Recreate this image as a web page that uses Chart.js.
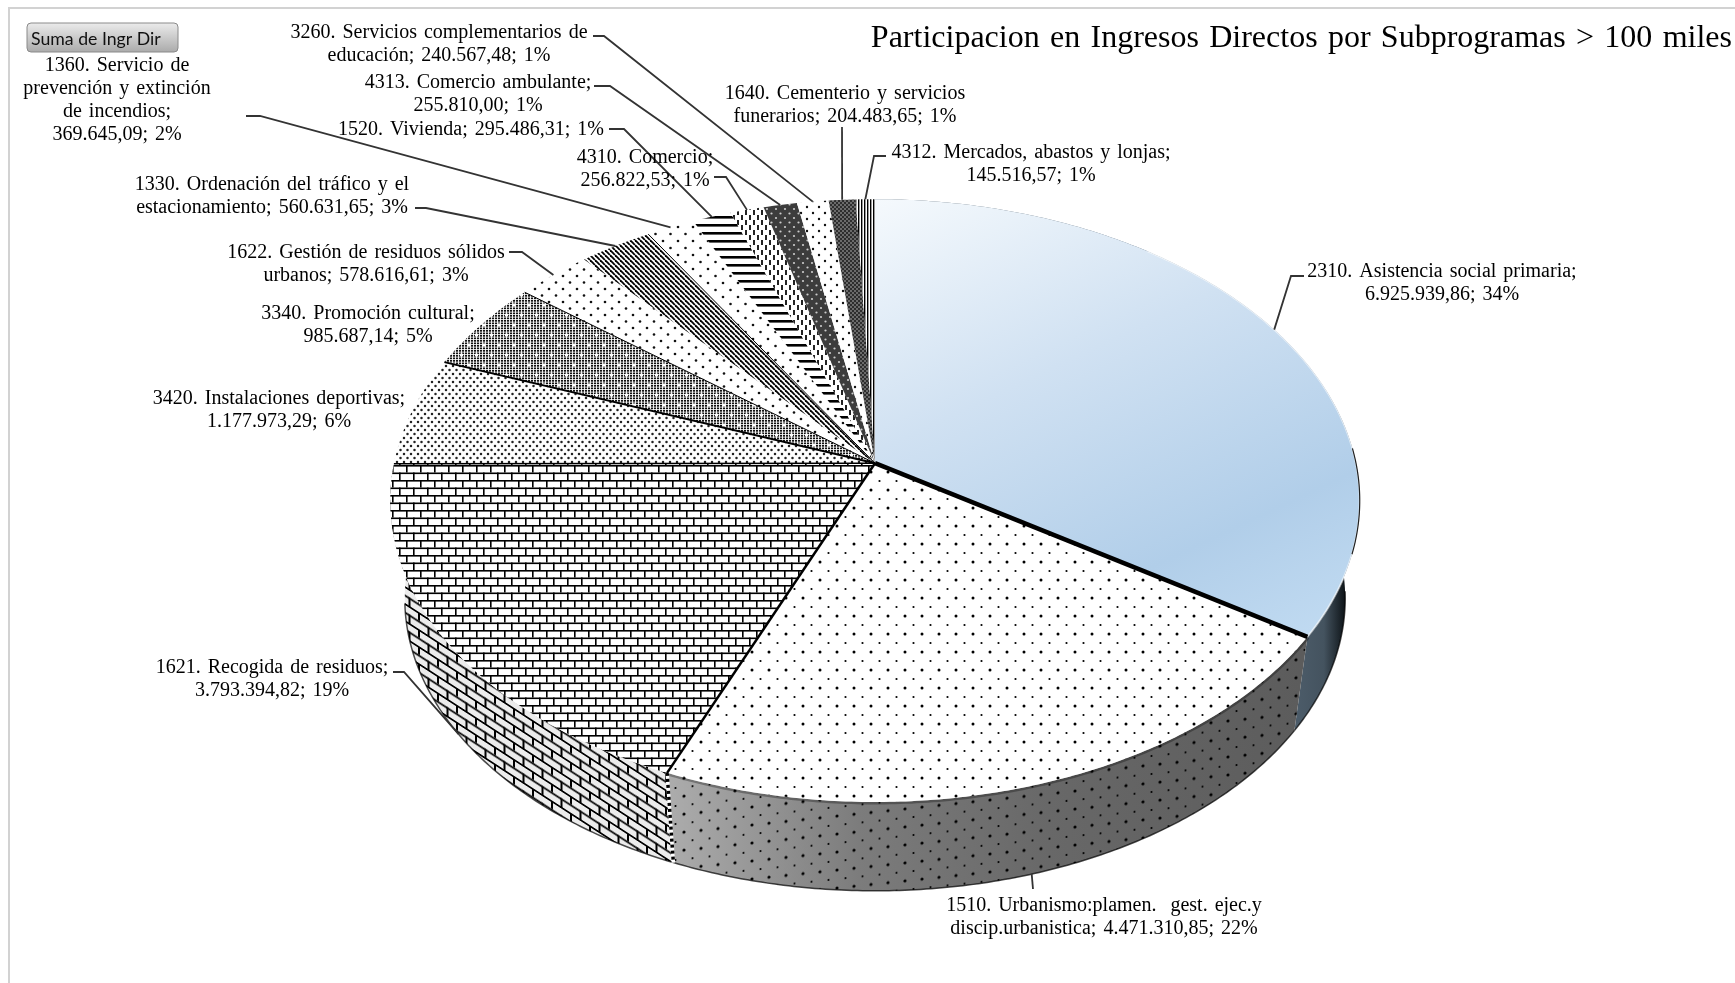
<!DOCTYPE html>
<html lang="es">
<head>
<meta charset="utf-8">
<title>Participacion en Ingresos Directos</title>
<script src="https://cdn.jsdelivr.net/npm/chart.js@4"></script>
<style>
    html, body { margin: 0; padding: 0; background: #fff; overflow: hidden; }
    #wrap { position: relative; width: 1735px; height: 983px; }
</style>
</head>
<body>
<div id="wrap"><canvas id="grafico" width="1735" height="983"></canvas></div>
<script>
const titulo = 'Participacion en Ingresos Directos por Subprogramas > 100 miles';
const botonTexto = 'Suma de Ingr Dir';

const categorias = [
    '2310. Asistencia social primaria',
    '1510. Urbanismo:plamen.  gest. ejec.y discip.urbanistica',
    '1621. Recogida de residuos',
    '3420. Instalaciones deportivas',
    '3340. Promoción cultural',
    '1622. Gestión de residuos sólidos urbanos',
    '1330. Ordenación del tráfico y el estacionamiento',
    '1360. Servicio de prevención y extinción de incendios',
    '1520. Vivienda',
    '4310. Comercio',
    '4313. Comercio ambulante',
    '3260. Servicios complementarios de educación',
    '1640. Cementerio y servicios funerarios',
    '4312. Mercados, abastos y lonjas'
];
const valores = [
    6925939.86, 4471310.85, 3793394.82, 1177973.29, 985687.14, 578616.61, 560631.65,
    369645.09, 295486.31, 256822.53, 255810.00, 240567.48, 204483.65, 145516.57
];

// layout of the labels: centre x, y of first line, words per line
const posEtiquetas = [
    [1442, 272, [4]], [1104, 906, [5]], [272, 668, [4]], [279, 399, [3]], [368, 314, [3]],
    [366, 253, [5]], [272, 185, [6]], [117, 66, [3, 6, 8]], [471, 130, []], [645, 158, [2]],
    [478, 83, [3]], [439, 33, [4]], [845, 94, [4]], [1031, 153, [5]]
];
// leader lines: start of the line and elbow, the end comes from the slice itself
const guias = [
    [[1304, 276], [1291, 276]], [[1033, 889]], [[393, 672], [404, 672]], null, null,
    [[509, 252], [522, 252]], [[415, 208], [426, 208]], [[246, 116], [260, 116]],
    [[609, 129], [624, 129]], [[714, 177], [726, 177]], [[594, 86], [610, 86]],
    [[593, 36], [604, 36]], [[842, 127]], [[886, 156], [874, 156]]
];
const guiaEnPared = [1, 2]; // these two end on the lower rim

// perspective of the 3D pie
const K = 0.124;
const ALTO = 0.617;
const ESCALA_BASE = 0.97;
const BAJADA_BASE = 99;

const canvas = document.getElementById('grafico');
const ctx = canvas.getContext('2d');

function trama(w, h, pintar) {
    const c = document.createElement('canvas');
    c.width = w;
    c.height = h;
    const g = c.getContext('2d');
    pintar(g);
    return ctx.createPattern(c, 'repeat');
}

function puntos(w, h, fondo, color, lista) {
    return trama(w, h, function (g) {
        if (fondo) {
            g.fillStyle = fondo;
            g.fillRect(0, 0, w, h);
        }
        g.fillStyle = color;
        lista.forEach(function (p) {
            g.beginPath();
            g.arc(p[0], p[1], p[2], 0, Math.PI * 2);
            g.fill();
        });
    });
}

function ladrillos(w, h, fondo, grosor) {
    return trama(w, h, function (g) {
        g.fillStyle = fondo;
        g.fillRect(0, 0, w, h);
        g.fillStyle = '#000';
        g.fillRect(0, 0, w, grosor);
        g.fillRect(0, h / 2, w, grosor);
        g.fillRect(0, 0, grosor, h / 2);
        g.fillRect(w / 2, h / 2, grosor, h / 2);
    });
}

const azul = ctx.createLinearGradient(880, 190, 1130, 720);
azul.addColorStop(0, '#f6fafd');
azul.addColorStop(0.4, '#d0e1f2');
azul.addColorStop(0.78, '#b1cee9');
azul.addColorStop(1, '#c0daf1');

const rellenos = [
    azul,
    puntos(17, 18, '#fff', '#000', [[4, 4, 1.5], [12.5, 13, 1.1]]),
    ladrillos(14, 15, '#fff', 1.6),
    puntos(7, 8, '#fff', '#222', [[1.5, 2, 1.25], [5, 6, 1.25]]),
    trama(15, 20, function (g) {
        g.fillStyle = '#fff';
        g.fillRect(0, 0, 15, 20);
        g.fillStyle = '#111';
        for (let x = 0; x < 15; x += 3) {
            for (let y = 0; y < 20; y += 2.5) g.fillRect(x, y, 2.1, 1.7);
        }
        g.fillStyle = '#fff';
        [[4, 5], [11.5, 15]].forEach(function (p) {
            g.beginPath();
            g.arc(p[0], p[1], 1.7, 0, Math.PI * 2);
            g.fill();
        });
    }),
    puntos(14, 13, '#fff', '#111', [[3, 3, 1.3], [10, 9.5, 1.3]]),
    trama(5, 5, function (g) {
        g.fillStyle = '#fff';
        g.fillRect(0, 0, 5, 5);
        g.strokeStyle = '#000';
        g.lineWidth = 1.8;
        [-5, 0, 5].forEach(function (d) {
            g.beginPath();
            g.moveTo(d, 0);
            g.lineTo(d + 5, 5);
            g.stroke();
        });
    }),
    puntos(15, 14, '#fff', '#111', [[3, 3, 1.3], [10.5, 10, 1.3]]),
    trama(4, 8, function (g) {
        g.fillStyle = '#fff';
        g.fillRect(0, 0, 4, 8);
        g.fillStyle = '#000';
        g.fillRect(0, 0, 4, 2.6);
    }),
    trama(8, 10, function (g) {
        g.fillStyle = '#fff';
        g.fillRect(0, 0, 8, 10);
        g.fillStyle = '#222';
        g.fillRect(1, 0, 2, 5);
        g.fillRect(5, 5, 2, 5);
    }),
    puntos(9, 9, '#3c3c3c', '#ccc', [[2, 2, 1.1], [6.5, 6.5, 1.1]]),
    puntos(12, 12, '#fff', '#111', [[3, 3, 1.2], [9, 9, 1.2]]),
    puntos(4, 4, '#2e2e2e', '#bbb', [[1, 1, 0.8], [3, 3, 0.8]]),
    trama(3, 2, function (g) {
        g.fillStyle = '#fff';
        g.fillRect(0, 0, 3, 2);
        g.fillStyle = '#000';
        g.fillRect(0, 0, 1.4, 2);
    })
];

// radial line at the end of each slice
const bordes = [4.5, 2.5, 1.5, 2, 1, 0, 1, 0, 0, 0, 0, 0, 0, 0];

// walls: only the first three can be seen from the front
const paredAzul = ctx.createLinearGradient(1285, 0, 1345, 0);
paredAzul.addColorStop(0, '#4f5f6d');
paredAzul.addColorStop(0.65, '#44535f');
paredAzul.addColorStop(1, '#0e1418');

const paredGris = ctx.createLinearGradient(670, 0, 1300, 0);
paredGris.addColorStop(0, '#acacac');
paredGris.addColorStop(0.3, '#7c7c7c');
paredGris.addColorStop(0.6, '#686868');
paredGris.addColorStop(1, '#5c5c5c');

const tramaParedPuntos = puntos(17, 18, null, '#000', [[4, 4, 1.6], [12.5, 13, 1.1]]);
tramaParedPuntos.setTransform(new DOMMatrix().skewY(-6));
const tramaParedLadrillo = ladrillos(19, 17, '#ececec', 2);
tramaParedLadrillo.setTransform(new DOMMatrix().skewY(33));

function punto(el, t, base) {
    const esc = base ? ESCALA_BASE : 1;
    const baj = base ? BAJADA_BASE : 0;
    const d = 1 - K * Math.sin(t);
    return {
        x: el.x + el.outerRadius * esc * Math.cos(t) / d,
        y: el.y + baj + el.outerRadius * ALTO * esc * Math.sin(t) / d
    };
}

function borde(c, el, desde, hasta, base, seguir) {
    const n = Math.max(2, Math.ceil(Math.abs(hasta - desde) / 0.01));
    for (let i = 0; i <= n; i++) {
        const p = punto(el, desde + (hasta - desde) * i / n, base);
        if (i === 0 && !seguir) c.moveTo(p.x, p.y);
        else c.lineTo(p.x, p.y);
    }
}

// top face of the slice, the angles are the ones the pie controller computed
Chart.ArcElement.prototype.draw = function (c) {
    c.save();
    c.beginPath();
    c.moveTo(this.x, this.y);
    borde(c, this, this.startAngle, this.endAngle, false, true);
    c.closePath();
    c.fillStyle = this.options.backgroundColor;
    c.fill();
    c.restore();
};

function pintarPared(c, el, rellenosPared) {
    c.beginPath();
    borde(c, el, el.startAngle, el.endAngle, false, false);
    borde(c, el, el.endAngle, el.startAngle, true, true);
    c.closePath();
    rellenosPared.forEach(function (r) {
        c.fillStyle = r;
        c.fill();
    });
}

function trazo(c, el, desde, hasta, base, color, ancho) {
    c.beginPath();
    borde(c, el, desde, hasta, base, false);
    c.strokeStyle = color;
    c.lineWidth = ancho;
    c.stroke();
}

const pluginPie3D = {
    id: 'pie3d',
    beforeDraw(chart) {
        const c = chart.ctx;
        c.wordSpacing = '2.3px';
        c.strokeStyle = '#d2d2d2';
        c.lineWidth = 2;
        c.strokeRect(9, 8, 1800, 1100);
    },
    beforeDatasetsDraw(chart) {
        const c = chart.ctx;
        const arcos = chart.getDatasetMeta(0).data;
        c.save();
        pintarPared(c, arcos[0], [paredAzul]);
        pintarPared(c, arcos[1], [paredGris, tramaParedPuntos]);
        pintarPared(c, arcos[2], [tramaParedLadrillo]);

        // soft dark rim on both sides of the wall
        [arcos[0], arcos[1], arcos[2]].forEach(function (el) {
            trazo(c, el, Math.max(el.startAngle, 0.1), Math.min(el.endAngle, 3.0), true, 'rgba(0,0,0,0.7)', 1.5);
        });
        trazo(c, arcos[1], arcos[1].startAngle, arcos[1].endAngle, false, 'rgba(0,0,0,0.3)', 5);

        // joint between the brick wall and the dotted wall
        const a = punto(arcos[1], arcos[1].endAngle, false);
        const b = punto(arcos[1], arcos[1].endAngle, true);
        c.beginPath();
        c.moveTo(a.x, a.y);
        c.lineTo(b.x, b.y);
        c.strokeStyle = '#fff';
        c.lineWidth = 3.5;
        c.stroke();
        c.setLineDash([3, 3]);
        c.strokeStyle = '#000';
        c.stroke();
        c.setLineDash([]);
        c.restore();
    },
    afterDatasetsDraw(chart) {
        const c = chart.ctx;
        const meta = chart.getDatasetMeta(0);
        const arcos = meta.data;
        const total = valores.reduce((a, b) => a + b, 0);

        c.save();
        // rim of the blue slice
        trazo(c, arcos[0], -0.9, arcos[0].endAngle, false, 'rgba(255,255,255,0.55)', 2);
        trazo(c, arcos[0], -0.05, 0.3, false, '#222', 1.2);

        // radial lines go on top of all the slices
        arcos.forEach(function (el) {
            const ancho = el.options.borderWidth;
            if (!ancho) return;
            const fin = punto(el, el.endAngle, false);
            c.beginPath();
            c.moveTo(el.x, el.y);
            c.lineTo(fin.x, fin.y);
            c.lineWidth = ancho;
            c.strokeStyle = '#000';
            c.stroke();
        });

        c.wordSpacing = '2px';
        // leader lines
        c.strokeStyle = '#333';
        c.lineWidth = 1.8;
        guias.forEach(function (g, i) {
            if (!g) return;
            const el = arcos[i];
            const fin = punto(el, (el.startAngle + el.endAngle) / 2, guiaEnPared.includes(i));
            c.beginPath();
            g.forEach(function (p, j) {
                if (j === 0) c.moveTo(p[0], p[1]);
                else c.lineTo(p[0], p[1]);
            });
            c.lineTo(fin.x, fin.y);
            c.stroke();
        });

        // labels: category; value; percent
        c.fillStyle = '#000';
        c.font = "20px 'Liberation Serif'";
        c.textAlign = 'center';
        c.textBaseline = 'middle';
        categorias.forEach(function (nombre, i) {
            const valor = valores[i].toLocaleString('es-ES', { minimumFractionDigits: 2, maximumFractionDigits: 2 });
            const pct = Math.round(valores[i] / total * 100);
            const palabras = (nombre + '; ' + valor + '; ' + pct + '%').split(' ');
            const cortes = posEtiquetas[i][2].concat(palabras.length);
            let ini = 0;
            cortes.forEach(function (corte, linea) {
                const texto = palabras.slice(ini, corte).join(' ');
                c.fillText(texto, posEtiquetas[i][0], posEtiquetas[i][1] + linea * 23);
                ini = corte;
            });
        });

        // the slicer button of the pivot chart
        const boton = c.createLinearGradient(0, 22, 0, 52);
        boton.addColorStop(0, '#ededed');
        boton.addColorStop(1, '#ababab');
        c.beginPath();
        c.roundRect(27, 23, 151, 29, 4);
        c.fillStyle = boton;
        c.fill();
        c.strokeStyle = '#8a8a8a';
        c.lineWidth = 1;
        c.stroke();
        c.wordSpacing = '0px';
        c.fillStyle = '#111';
        c.font = "17.7px Lato";
        c.textAlign = 'left';
        c.fillText(botonTexto, 31, 39);
        c.restore();
    }
};

new Chart(ctx, {
    type: 'pie',
    data: {
        labels: categorias,
        datasets: [{
            data: valores,
            backgroundColor: rellenos,
            borderWidth: bordes,
            radius: 481,
            clip: false
        }]
    },
    options: {
        responsive: false,
        animation: false,
        layout: { padding: { left: 18, right: 3, top: 0, bottom: 118 } },
        plugins: {
            legend: { display: false },
            tooltip: { enabled: false },
            title: {
                display: true,
                text: titulo,
                align: 'end',
                color: '#000',
                font: { family: "'Liberation Serif'", size: 32, weight: 'normal' },
                padding: { top: 19, bottom: 4 }
            }
        }
    },
    plugins: [pluginPie3D]
});
</script>
</body>
</html>
